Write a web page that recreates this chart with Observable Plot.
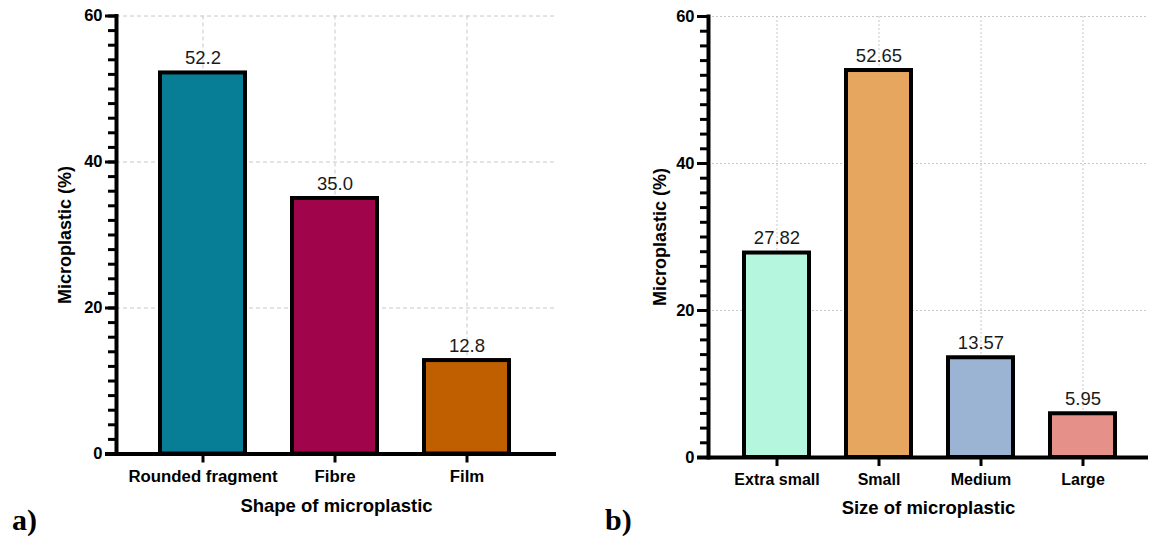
<!DOCTYPE html>
<html>
<head>
<meta charset="utf-8">
<script src="https://cdn.jsdelivr.net/npm/d3@7"></script>
<script src="https://cdn.jsdelivr.net/npm/@observablehq/plot@0.6"></script>
<style>
  html, body { margin: 0; padding: 0; background: white; }
  #wrap { position: relative; width: 1150px; height: 538px; overflow: hidden; }
  .panel { position: absolute; top: 0; }
  .tag { position: absolute; font-family: "Liberation Serif", "Times New Roman", serif; font-weight: bold; font-size: 30px; line-height: 1; color: #000; }
</style>
</head>
<body>
<div id="wrap">
  <div id="left" class="panel" style="left:0px"></div>
  <div id="right" class="panel" style="left:575px"></div>
  <div class="tag" style="left:12px; top:505px">a)</div>
  <div class="tag" style="left:605px; top:505px">b)</div>
</div>
<script>
// ---- Data ----
const shapeCats = ["Rounded fragment", "Fibre", "Film"];
const shapeVals = [52.2, 35.0, 12.8];
const shapeLabels = ["52.2", "35.0", "12.8"];
const shapeColors = ["#087d96", "#a0044b", "#c05f00"];

const sizeCats = ["Extra small", "Small", "Medium", "Large"];
const sizeVals = [27.82, 52.65, 13.57, 5.95];
const sizeLabels = ["27.82", "52.65", "13.57", "5.95"];
const sizeColors = ["#b4f6de", "#e7a660", "#9bb4d3", "#e5918a"];

const yTicks = [0, 20, 40, 60];
const yMinorTicks = d3.range(0, 61, 2);
const yTitle = "Microplastic (%)";

function makeChart(o) {
  const data = o.cats.map((c, i) => ({cat: c, val: o.vals[i], label: o.labels[i], color: o.colors[i]}));
  return Plot.plot({
    width: o.width,
    height: 538,
    marginLeft: o.marginLeft,
    marginRight: o.marginRight,
    marginTop: o.marginTop,
    marginBottom: o.marginBottom,
    style: {fontFamily: "'Liberation Sans', Arial, sans-serif", background: "white", color: "black"},
    x: {domain: o.cats, range: o.range, paddingInner: o.pInner, paddingOuter: o.pInner / 2},
    y: {domain: [0, 60]},
    marks: [
      Plot.gridY({ticks: [20, 40, 60], stroke: "#c8c8c8", strokeOpacity: 1, strokeWidth: 1, strokeDasharray: o.dash}),
      Plot.gridX({stroke: "#c8c8c8", strokeOpacity: 1, strokeWidth: 1, strokeDasharray: o.dash}),
      Plot.barY(data, {x: "cat", y: "val", fill: "color", stroke: "black", strokeWidth: 4}),
      Plot.text(data, {x: "cat", y: "val", text: "label", lineAnchor: "bottom", dy: -9, fontSize: 18.5, fill: "#1a1a1a"}),
      Plot.axisY({ticks: yMinorTicks, tickSize: 8, strokeWidth: 3, tickFormat: () => "", label: null}),
      Plot.axisY({ticks: yTicks, tickSize: 11, tickPadding: 3, strokeWidth: 3, fontSize: 16.5, fontWeight: "bold", label: null}),
      Plot.axisX({tickSize: 9, tickPadding: 7, strokeWidth: 3, fontSize: o.catFont, fontWeight: "bold", label: null}),
      Plot.frame({anchor: "left", stroke: "black", strokeWidth: 4}),
      Plot.ruleY([0], {stroke: "black", strokeWidth: 4, insetLeft: -11}),
      Plot.text([o.xTitle], {text: d => d, frameAnchor: "bottom", dy: o.xTitleDy, fontSize: 18.5, fontWeight: "bold", lineAnchor: "middle"}),
      Plot.text([yTitle], {text: d => d, frameAnchor: "left", dx: o.yTitleDx, rotate: -90, textAnchor: "middle", lineAnchor: "middle", fontSize: 18, fontWeight: "bold"})
    ]
  });
}

document.getElementById("left").appendChild(makeChart({
  cats: shapeCats, vals: shapeVals, labels: shapeLabels, colors: shapeColors,
  xTitle: "Shape of microplastic", catFont: 16.8,
  width: 575, marginLeft: 116, marginRight: 19, marginTop: 15.5, marginBottom: 84.5,
  range: [137, 533], pInner: 0.355, dash: "4,3", xTitleDy: 52, yTitleDx: -51
}));

document.getElementById("right").appendChild(makeChart({
  cats: sizeCats, vals: sizeVals, labels: sizeLabels, colors: sizeColors,
  xTitle: "Size of microplastic", catFont: 16,
  width: 575, marginLeft: 133, marginRight: 2, marginTop: 16, marginBottom: 81,
  range: [150, 559], pInner: 0.36, dash: "2,2", xTitleDy: 51, yTitleDx: -48
}));
</script>
</body>
</html>
